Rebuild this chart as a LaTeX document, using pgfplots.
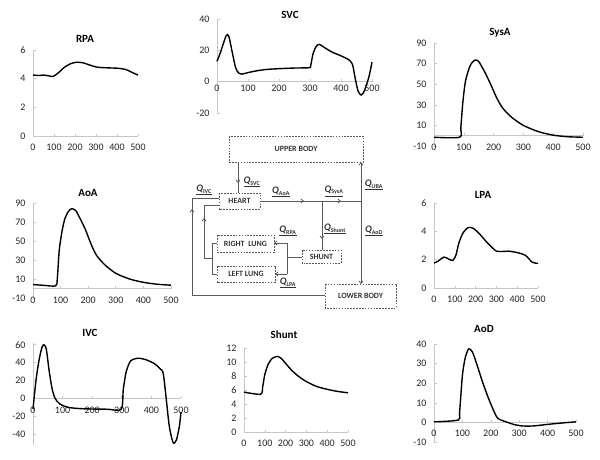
\documentclass[border=0pt]{standalone}
\usepackage{fontspec}
\setmainfont{Carlito}
\usepackage{pgfplots}
\pgfplotsset{compat=1.18}
\usetikzlibrary{arrows.meta}
\newcommand\Q[1]{\underline{\textbf{\textit{Q}}\textsubscript{\textbf{\fontsize{6}{7}\selectfont #1}}}}
\pgfplotsset{exc/.style={scale only axis, anchor=south west, xmin=0, xmax=500,
  xtick={0,100,...,500}, axis x line*=middle, axis y line*=left,
  axis line style={gray!45, line width=0.6pt}, tick style={gray!45, line width=0.6pt},
  major tick length=2.5pt, hide obscured x ticks=false, hide obscured y ticks=false,
  ticklabel style={font=\fontsize{10}{12}\selectfont, text=black!85},
  /pgf/number format/assume math mode=true,
  xticklabel style={yshift=-4.5pt}, yticklabel style={xshift=-4pt},
  clip=false},
  crv/.style={black, line width=1.4pt, smooth, tension=0.45, mark=none}}
\tikzset{box/.style={draw=black!65, line width=0.7pt, dash pattern=on 1.6pt off 1.3pt},
  ln/.style={draw=black!65, line width=0.8pt},
  ar/.style={ln, -{Straight Barb[length=2.5pt,width=4pt]}},
  bl/.style={font=\fontsize{8}{9}\selectfont\bfseries, text=black!80},
  ql/.style={font=\fontsize{10}{11}\selectfont, text=black!80, inner sep=0pt}}
\begin{document}
\begin{tikzpicture}[x=1pt,y=1pt]
\path[use as bounding box] (0pt,0pt) rectangle (600pt,-459pt);
% titles
\begin{scope}[every node/.style={font=\fontsize{11}{13}\selectfont\bfseries}]
\node at (85pt,-39pt) {RPA};
\node at (290pt,-15pt) {SVC};
\node at (500pt,-33pt) {SysA};
\node at (88pt,-193pt) {AoA};
\node at (483pt,-195pt) {LPA};
\node at (90pt,-333pt) {IVC};
\node at (284pt,-335pt) {Shunt};
\node at (484pt,-329pt) {AoD};
\end{scope}
% RPA
\begin{axis}[exc, at={(33pt,-136pt)}, width=105pt, height=86pt, ymin=0, ymax=6, ytick={0,2,4,6}]
\addplot[crv] coordinates {(0,4.26)(25,4.22)(50,4.25)(75,4.2)(95,4.15)(120,4.4)(150,4.8)(180,5.05)(210,5.15)(240,5.1)(270,4.95)(300,4.82)(330,4.77)(400,4.73)(440,4.65)(470,4.45)(500,4.25)};
\end{axis}
% SVC
\begin{axis}[exc, at={(217pt,-113pt)}, width=155pt, height=94pt, ymin=-20, ymax=40, ytick={-20,0,20,40}, xticklabel style={yshift=4.5pt}]
\addplot[crv] coordinates {(0,13)(10,18)(20,24)(30,29.5)(38,29)(50,18)(60,9)(70,5.5)(80,4.8)(100,5.8)(130,7)(160,7.8)(200,8.3)(250,8.7)(297,8.9)(302,10)(310,18)(320,22.5)(330,23.8)(345,22)(370,19)(400,16.5)(425,14)(437,11)(446,2)(455,-6)(465,-8.5)(475,-6)(490,3)(500,12.5)};
\end{axis}
% SysA
\begin{axis}[exc, at={(434pt,-146pt)}, width=149pt, height=103pt, ymin=-10, ymax=90, ytick={-10,10,30,50,70,90}]
\addplot[crv] coordinates {(0,-1.5)(86,-1.5)(90,8)(97,33)(105,52)(115,63)(125,70)(138,73.5)(150,72)(170,62)(190,50)(210,37)(230,27)(260,18)(300,10)(350,4)(400,0.5)(450,-1)(500,-1.5)};
\end{axis}
% AoA
\begin{axis}[exc, at={(33pt,-298pt)}, width=138pt, height=95pt, ymin=-10, ymax=90, ytick={-10,10,30,50,70,90}]
\addplot[crv] coordinates {(0,4.2)(40,3.3)(82,2.8)(88,10)(95,40)(105,60)(115,73)(128,81)(140,84)(155,82)(170,74)(190,62)(210,47)(230,35)(260,25)(300,16)(350,10)(400,6.5)(450,4.5)(500,3.5)};
\end{axis}
% LPA
\begin{axis}[exc, at={(434pt,-288pt)}, width=104pt, height=85pt, ymin=0, ymax=6, ytick={0,2,4,6}]
\addplot[crv] coordinates {(0,1.76)(20,1.9)(48,2.18)(70,2.05)(90,1.95)(105,2.3)(120,3.2)(140,3.9)(165,4.27)(190,4.2)(220,3.8)(250,3.3)(280,2.85)(300,2.6)(330,2.58)(360,2.6)(400,2.5)(440,2.3)(470,1.85)(490,1.75)(500,1.75)};
\end{axis}
% IVC
\begin{axis}[exc, at={(33pt,-445pt)}, width=148pt, height=102pt, ymin=-52, ymax=62, ytick={-40,-20,0,20,40,60}]
\addplot[crv] coordinates {(0,-12)(10,20)(20,42)(30,57)(37,60)(45,55)(55,30)(65,10)(75,0)(90,-6)(120,-10)(170,-11.5)(250,-12)(298,-12)(305,10)(315,30)(330,42)(355,45)(380,43.5)(410,39)(430,33)(440,28)(450,0)(460,-30)(470,-46)(476,-50)(485,-46)(495,-30)(500,-15)};
\end{axis}
% Shunt
\begin{axis}[exc, at={(244pt,-432pt)}, width=104pt, height=84pt, ymin=0, ymax=12, ytick={0,2,...,12}]
\addplot[crv] coordinates {(0,5.7)(80,5.4)(90,6.5)(100,8.2)(115,9.6)(135,10.5)(160,10.8)(180,10.5)(200,9.8)(230,8.8)(260,8)(300,7.2)(350,6.5)(400,6.1)(450,5.8)(500,5.6)};
\end{axis}
% AoD
\begin{axis}[exc, at={(434pt,-442pt)}, width=142pt, height=98pt, ymin=-10, ymax=40, ytick={-10,0,...,40}]
\addplot[crv] coordinates {(0,0.3)(85,1.2)(90,5)(100,24)(110,33)(122,37.5)(135,36)(150,30)(170,21)(190,13)(210,6)(225,2)(250,0.5)(280,-1)(310,-1.8)(350,-1.8)(400,-1)(450,-0.3)(500,0.3)};
\end{axis}
% diagram
\draw[box] (229,-136) rectangle (363,-162);
\node[bl] at (296,-149) {UPPER BODY};
\draw[box] (219,-193) rectangle (260,-209);
\node[bl] at (239.5,-201) {HEART};
\draw[box] (217,-235) rectangle (274,-252);
\node[bl] at (245.5,-243.5) {RIGHT\ \ LUNG};
\draw[box] (217,-266) rectangle (275,-282);
\node[bl] at (246,-274) {LEFT LUNG};
\draw[box] (302,-250) rectangle (341,-263);
\node[bl] at (321.5,-256.5) {SHUNT};
\draw[box] (325,-284) rectangle (396,-308);
\node[bl] at (360.5,-296) {LOWER BODY};
% flows
\draw[ar] (238,-162)--(238,-183);
\draw[ln] (238,-182)--(238,-193);
\draw[ar] (260,-201)--(304,-201);
\draw[ar] (303,-201)--(341,-201);
\draw[ln] (340,-201)--(361,-201);
\draw[ar] (361,-201)--(361,-162);
\draw[ar] (361,-201)--(361,-284);
\draw[ar] (322,-201)--(322,-239);
\draw[ln] (322,-238)--(322,-250);
\draw[ln] (302,-257)--(287,-257);
\draw[ln] (287,-243)--(287,-274);
\draw[ar] (287,-243)--(274,-243);
\draw[ar] (287,-274)--(275,-274);
\draw[ln] (217,-243)--(212,-243)--(212,-274)--(217,-274);
\draw[ar] (212,-258)--(204,-258)--(204,-218);
\draw[ln] (204,-219)--(204,-205)--(219,-205);
\draw[ar] (325,-295)--(192,-295)--(192,-209);
\draw[ln] (192,-210)--(192,-198)--(219,-198);
% flow labels
\node[ql] at (252,-182) {\Q{SVC}};
\node[ql] at (204,-190) {\Q{IVC}};
\node[ql] at (281,-192) {\Q{AoA}};
\node[ql] at (334,-191) {\Q{SysA}};
\node[ql] at (374,-185) {\Q{UBA}};
\node[ql] at (335,-229) {\Q{Shunt}};
\node[ql] at (374,-231) {\Q{AoD}};
\node[ql] at (288,-231) {\Q{RPA}};
\node[ql] at (288,-283) {\Q{LPA}};
\end{tikzpicture}
\end{document}
